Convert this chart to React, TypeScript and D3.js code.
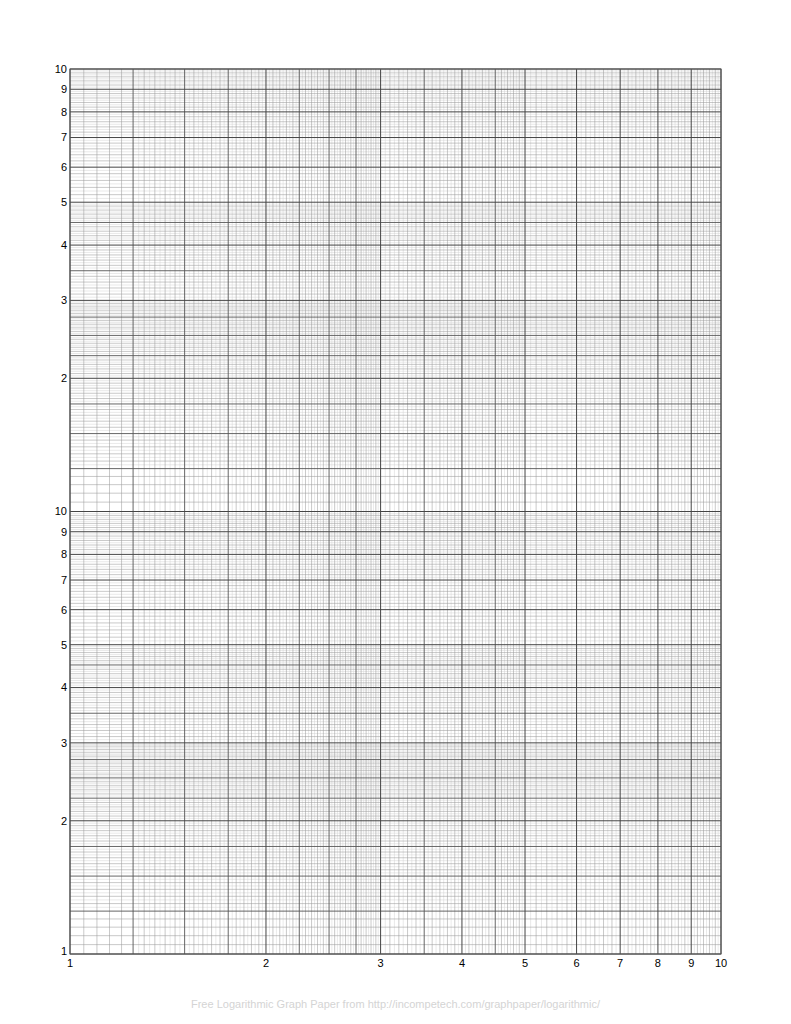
import * as d3 from 'd3';
import { useMemo } from 'react';

// grid layout of the sheet
const xMajor = [1, 2, 3, 4, 5, 6, 7, 8, 9, 10];
const xLabels = ['1', '2', '3', '4', '5', '6', '7', '8', '9', '10'];
const yLabelsUpper = ['10', '9', '8', '7', '6', '5', '4', '3', '2'];
const yLabelValues = [10, 9, 8, 7, 6, 5, 4, 3, 2];
const darkSub = [1.25, 1.5, 1.75, 2.25, 2.5, 2.75, 3.5, 4.5];
// [from, to, step]
const mediumRuns: [number, number, number][] = [
    [1, 2, 0.05],
    [2, 3, 0.05],
    [3, 5, 0.1],
    [5, 10, 0.2],
];
const lightRuns: [number, number, number][] = [
    [1.25, 2, 0.025],
    [2, 3, 0.025],
    [3, 5, 0.05],
    [5, 10, 0.1],
];
const decades = [1, 10];
const footer = 'Free Logarithmic Graph Paper from http://incompetech.com/graphpaper/logarithmic/';

const W = 791;
const H = 1024;
const left = 70;
const right = 721;
const top = 69;
const bottom = 954;

const key = (v: number) => Math.round(v * 1000);

function expand(runs: [number, number, number][]) {
    const out: number[] = [];
    runs.forEach(([a, b, s]) => {
        d3.range(Math.round((b - a) / s) + 1).forEach((i) => out.push(+(a + i * s).toFixed(4)));
    });
    return out;
}

function levels() {
    const taken = new Set<number>();
    const major = xMajor.slice();
    major.forEach((v) => taken.add(key(v)));
    const dark = darkSub.filter((v) => !taken.has(key(v)));
    dark.forEach((v) => taken.add(key(v)));
    const medium = Array.from(new Set(expand(mediumRuns).filter((v) => !taken.has(key(v)))));
    medium.forEach((v) => taken.add(key(v)));
    const light = Array.from(new Set(expand(lightRuns).filter((v) => !taken.has(key(v)))));
    return { major, dark, medium, light };
}

const styles = {
    light: { stroke: '#d2d2d2', width: 0.5 },
    medium: { stroke: '#9c9c9c', width: 0.55 },
    dark: { stroke: '#555', width: 0.9 },
    major: { stroke: '#444', width: 1 },
};

export default function App() {
    const x = d3.scaleLog().domain([1, 10]).range([left, right]);
    const y = d3.scaleLog().domain([1, 100]).range([bottom, top]);

    const lv = useMemo(levels, []);
    const order: (keyof typeof styles)[] = ['light', 'medium', 'dark', 'major'];

    return (
        <svg
            width={W}
            height={H}
            style={{ position: 'absolute', left: 0, top: 0, background: '#fff' }}
            fontFamily="'Liberation Sans', Arial, sans-serif"
        >
            {order.map((name) => (
                <g key={name} stroke={styles[name].stroke} strokeWidth={styles[name].width}>
                    {lv[name].map((v) => (
                        <line key={'v' + v} x1={x(v)} x2={x(v)} y1={top} y2={bottom} />
                    ))}
                    {decades.map((d) =>
                        lv[name].map((v) => (
                            <line key={'h' + d + '-' + v} x1={left} x2={right} y1={y(v * d)} y2={y(v * d)} />
                        ))
                    )}
                </g>
            ))}
            <rect
                x={left}
                y={top}
                width={right - left}
                height={bottom - top}
                fill="none"
                stroke="#555"
                strokeWidth={1}
            />
            <g fontSize={11} fill="#000" textAnchor="end">
                {decades.map((d) =>
                    yLabelValues.map((v, i) => (
                        <text key={d + '-' + v} x={67} y={y(v * d)} dy="0.35em">
                            {yLabelsUpper[i]}
                        </text>
                    ))
                )}
                <text x={67} y={y(1)} dy="0.1em">
                    1
                </text>
            </g>
            <g fontSize={11} fill="#000" textAnchor="middle">
                {xMajor.map((v, i) => (
                    <text key={v} x={x(v)} y={bottom + 13}>
                        {xLabels[i]}
                    </text>
                ))}
            </g>
            <text x={W / 2} y={1008} fontSize={11} fill="#d4d4d4" textAnchor="middle">
                {footer}
            </text>
        </svg>
    );
}
